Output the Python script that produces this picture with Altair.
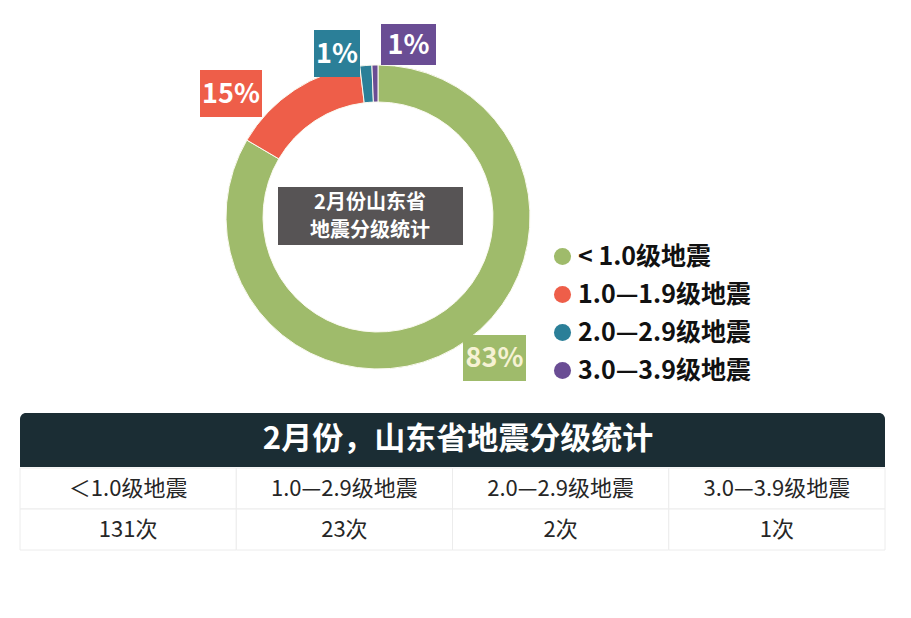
import altair as alt
import pandas as pd

# ---------------- data ----------------
legend_labels = ["< 1.0级地震", "1.0—1.9级地震", "2.0—2.9级地震", "3.0—3.9级地震"]
counts = [131, 23, 2, 1]
slice_colors = ["#9fbb6b", "#ee5e49", "#2b7f98", "#6a4d94"]
label_text_colors = ["#f6f2d4", "#ffffff", "#ffffff", "#ffffff"]

table_title = "2月份，山东省地震分级统计"
table_labels = ["＜1.0级地震", "1.0—2.9级地震", "2.0—2.9级地震", "3.0—3.9级地震"]
table_counts = ["131次", "23次", "2次", "1次"]

center_lines = ["2月份山东省", "地震分级统计"]

FONT = "Noto Sans CJK SC"

# ---------------- layout (page px -> chart px) ----------------
W, H = 895, 602
def P(v):
    return v - 8

CX, CY = P(378), P(217)
R_OUT, R_IN = 152, 115

# percentage label boxes (x0, x1, y0, y1) in page px, one per slice
label_boxes = [
    (463, 526, 335, 381),
    (200, 262, 70, 117),
    (314, 360, 30, 77),
    (381, 436, 24, 65),
]
center_line_y = [203, 231]

total = sum(counts)
pct = [f"{round(c / total * 100)}%" for c in counts]

pie_df = pd.DataFrame({
    "category": legend_labels,
    "count": counts,
    "idx": list(range(len(counts))),
})
one = pd.DataFrame({"k": [0]})  # single row for annotation marks

arc = alt.Chart(pie_df).mark_arc(
    innerRadius=R_IN, outerRadius=R_OUT, stroke="#fbfaf0", strokeWidth=1
).encode(
    theta=alt.Theta("count:Q", stack=True),
    color=alt.Color(
        "category:N",
        scale=alt.Scale(domain=legend_labels, range=slice_colors),
        legend=alt.Legend(
            orient="none", legendX=P(550), legendY=P(244), title=None,
            symbolType="circle", symbolSize=290, symbolStrokeWidth=0,
            labelFontSize=25, labelFontWeight="bold", labelFont=FONT,
            labelColor="#111111", labelOffset=3, rowPadding=12, padding=0,
            labelLimit=400,
        ),
    ),
    order=alt.Order("idx:Q"),
    x=alt.value(CX),
    y=alt.value(CY),
)

layers = [arc]

# center dark box with text
layers.append(
    alt.Chart(one).mark_rect(color="#575455").encode(
        x=alt.value(P(278)), x2=alt.value(P(463)),
        y=alt.value(P(187)), y2=alt.value(P(245)),
    )
)
for line, ly in zip(center_lines, center_line_y):
    layers.append(
        alt.Chart(one).mark_text(
            font=FONT, fontSize=20, fontWeight="bold", color="white",
            baseline="middle", align="center",
        ).encode(
            x=alt.value(P(370)), y=alt.value(P(ly)), text=alt.value(line)
        )
    )

# percentage label boxes
for i, (x0, x1, y0, y1) in enumerate(label_boxes):
    layers.append(
        alt.Chart(one).mark_rect(color=slice_colors[i]).encode(
            x=alt.value(P(x0)), x2=alt.value(P(x1)),
            y=alt.value(P(y0)), y2=alt.value(P(y1)),
        )
    )
    layers.append(
        alt.Chart(one).mark_text(
            font=FONT, fontSize=27, fontWeight="bold", color=label_text_colors[i],
            baseline="middle", align="center",
        ).encode(
            x=alt.value(P((x0 + x1) / 2)), y=alt.value(P((y0 + y1) / 2 + 1)),
            text=alt.value(pct[i]),
        )
    )

# table header
layers.append(
    alt.Chart(one).mark_rect(
        color="#1b2d34", cornerRadiusTopLeft=6, cornerRadiusTopRight=6
    ).encode(
        x=alt.value(P(20)), x2=alt.value(P(885)),
        y=alt.value(P(413)), y2=alt.value(P(467)),
    )
)
layers.append(
    alt.Chart(one).mark_text(
        font=FONT, fontSize=31, fontWeight="bold", color="white",
        baseline="middle", align="center",
    ).encode(
        x=alt.value(P(458)), y=alt.value(P(440)), text=alt.value(table_title)
    )
)

# table body
rows = ["label", "count"]
tab_df = pd.DataFrame({
    "col": table_labels * 2,
    "row": ["label"] * 4 + ["count"] * 4,
    "txt": table_labels + table_counts,
})
xcol = alt.X("col:N", sort=table_labels, axis=None,
             scale=alt.Scale(domain=table_labels, range=[P(20), P(885)],
                             paddingInner=0, paddingOuter=0))
yrow = alt.Y("row:N", sort=rows, axis=None,
             scale=alt.Scale(domain=rows, range=[P(468), P(550)],
                             paddingInner=0, paddingOuter=0))

layers.append(
    alt.Chart(tab_df).mark_rect(fill="white", stroke="#ececec", strokeWidth=1).encode(
        x=xcol, y=yrow
    )
)
layers.append(
    alt.Chart(tab_df).mark_text(
        font=FONT, fontSize=22, color="#262626", baseline="middle", align="center"
    ).encode(x=xcol, y=yrow, text="txt:N")
)

chart = alt.layer(*layers).properties(
    width=W, height=H, autosize="none", padding=0, background="white"
).configure_view(stroke=None)

chart.save("out.html", embed_options={"renderer": "svg", "actions": False})
